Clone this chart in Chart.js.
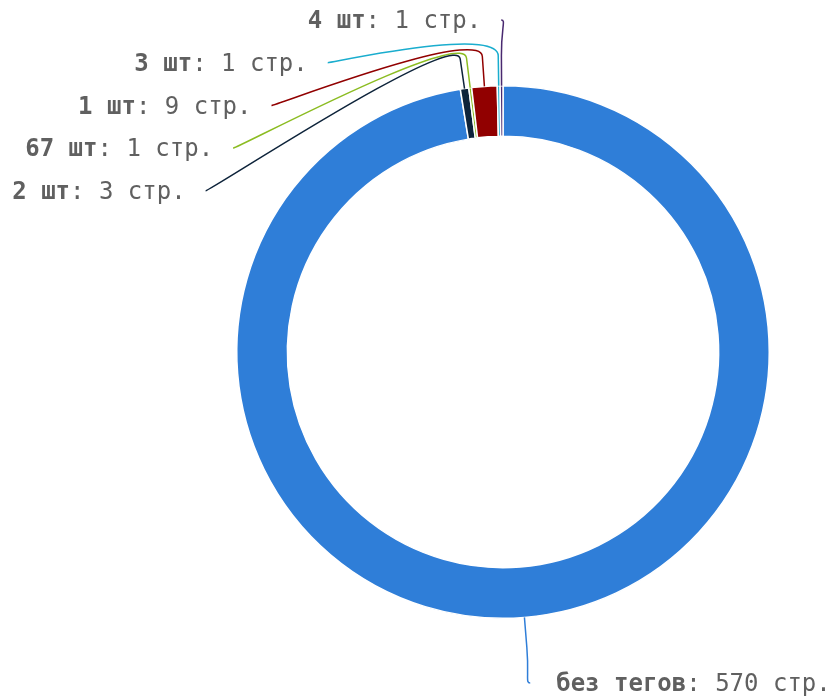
<!DOCTYPE html>
<html>
<head>
<meta charset="utf-8">
<script src="https://cdn.jsdelivr.net/npm/chart.js@4"></script>
<style>
  html, body { margin: 0; padding: 0; background: #fff; }
  #wrap { width: 830px; height: 700px; }
</style>
</head>
<body>
<div id="wrap"><canvas id="pie" width="830" height="700"></canvas></div>
<script>
// Данные: количество тегов -> число страниц
const categorias = ['без тегов', '2 шт', '67 шт', '1 шт', '3 шт', '4 шт'];
const paginas = [570, 3, 1, 9, 1, 1];
const colores = ['#2f7ed8', '#0d233a', '#8bbc21', '#910000', '#1aadce', '#492970'];

const FONT = '"DejaVu Sans Mono", monospace';
const TAM = 24;

// --- Etiquetas con conectores (estilo Highcharts) ---
const etiquetas = {
  id: 'etiquetas',
  afterDraw(chart) {
    const ctx = chart.ctx;
    const arcs = chart.getDatasetMeta(0).data;
    const H = chart.height;
    const sides = { left: [], right: [] };

    arcs.forEach((arc, i) => {
      const { x, y, startAngle, endAngle, outerRadius } = arc.getProps(['x', 'y', 'startAngle', 'endAngle', 'outerRadius'], true);
      const mid = (startAngle + endAngle) / 2;
      const rc = outerRadius + 72;
      const p = {
        i, cx: x, cy: y, rc,
        touch: { x: x + Math.cos(mid) * outerRadius, y: y + Math.sin(mid) * outerRadius },
        brk: { x: x + Math.cos(mid) * (outerRadius + 30), y: y + Math.sin(mid) * (outerRadius + 30) },
        nx: x + Math.cos(mid) * rc,
        ny: y + Math.sin(mid) * rc,
        left: Math.cos(mid) < 0
      };
      (p.left ? sides.left : sides.right).push(p);
    });

    const paso = 42.7;
    Object.values(sides).forEach(list => {
      list.sort((a, b) => a.ny - b.ny);
      let prev = -Infinity;
      list.forEach(p => {
        let ly = Math.max(p.ny, 20, prev + paso);
        ly = Math.min(ly, H - 17);
        prev = ly;
        let lx = p.nx;
        if (Math.abs(ly - p.ny) > 10) {
          const dy = ly - p.cy;
          const dx = Math.sqrt(Math.max(0, p.rc * p.rc - dy * dy));
          lx = p.cx + (p.left ? -dx : dx);
        }
        p.lx = lx; p.ly = ly;
      });
    });

    ctx.save();
    [...sides.left, ...sides.right].forEach(p => {
      const { lx, ly, brk, touch } = p;
      // conector suave
      ctx.beginPath();
      ctx.strokeStyle = colores[p.i];
      ctx.lineWidth = 1.5;
      ctx.moveTo(lx, ly);
      ctx.bezierCurveTo(lx + (p.left ? 5 : -5), ly, 2 * brk.x - touch.x, 2 * brk.y - touch.y, brk.x, brk.y);
      ctx.lineTo(touch.x, touch.y);
      ctx.stroke();

      // texto: nombre en negrita + valor
      const nombre = categorias[p.i];
      const resto = ': ' + paginas[p.i] + ' стр.';
      ctx.textBaseline = 'middle';
      ctx.fillStyle = '#606060';
      ctx.font = 'bold ' + TAM + 'px ' + FONT;
      const w1 = ctx.measureText(nombre).width;
      ctx.font = TAM + 'px ' + FONT;
      const w2 = ctx.measureText(resto).width;
      const x0 = p.left ? lx - 20 - w1 - w2 : lx + 26;
      ctx.textAlign = 'left';
      ctx.font = 'bold ' + TAM + 'px ' + FONT;
      ctx.fillText(nombre, x0, ly + 2);
      ctx.font = TAM + 'px ' + FONT;
      ctx.fillText(resto, x0 + w1, ly + 2);
    });
    ctx.restore();
  }
};

new Chart(document.getElementById('pie'), {
  type: 'doughnut',
  data: {
    labels: categorias,
    datasets: [{
      data: paginas,
      backgroundColor: colores,
      borderColor: '#ffffff',
      borderWidth: 1.5
    }]
  },
  options: {
    responsive: false,
    animation: false,
    events: [],
    cutout: '81%',
    layout: { padding: { top: 85, bottom: 81, left: 236, right: 60 } },
    plugins: {
      legend: { display: false },
      tooltip: { enabled: false }
    }
  },
  plugins: [etiquetas]
});
</script>
</body>
</html>
